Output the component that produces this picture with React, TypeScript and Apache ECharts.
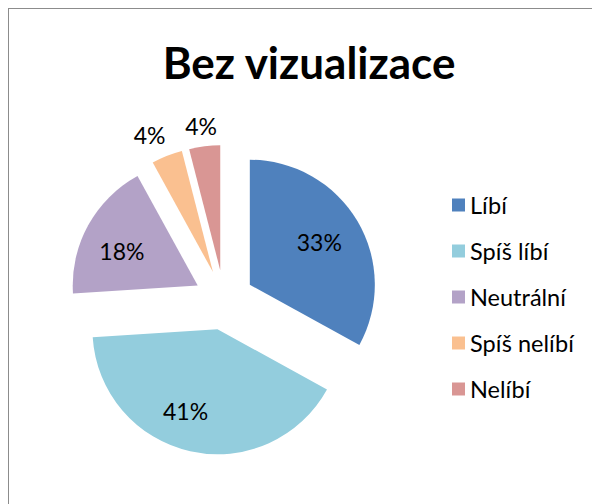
import React, { useEffect, useRef } from "react";
import * as echarts from "echarts";

const titleText = "Bez vizualizace";
const categories = ["Líbí", "Spíš líbí", "Neutrální", "Spíš nelíbí", "Nelíbí"];
const values = [33, 41, 18, 4, 4];
const colors = ["#4F81BD", "#93CDDD", "#B3A2C7", "#FAC090", "#D99694"];
const outsideLabel = [false, false, false, true, true];

const FONT = "Lato, 'Open Sans', sans-serif";

export default function App() {
  const ref = useRef<HTMLDivElement>(null);
  useEffect(() => {
    if (!ref.current) return;
    const chart = echarts.init(ref.current, undefined, { renderer: "svg" });
    const center = [215, 291];
    const R = 125;
    const off = 30;
    // small label nudges to mimic the spreadsheet's label placement
    const nudge = [
      [-5, 1],
      [-13, -3],
      [0, 7],
      [-10, -2],
      [-1, 0],
    ];
    const baseData = categories.map((name, i) => ({
      name,
      value: values[i],
      selected: true,
      itemStyle: { color: colors[i] },
    }));
    const labelData = categories.map((name, i) => ({
      name,
      value: values[i],
      selected: true,
      itemStyle: { color: "rgba(0,0,0,0)" },
      label: outsideLabel[i]
        ? { position: "outside", distanceToLabelLine: 0 }
        : { position: "inside" },
      labelLine: { show: false, length: 20, length2: 0 },
    }));
    chart.setOption({
      animation: false,
      title: {
        text: titleText,
        left: "center",
        top: 26,
        textStyle: { fontFamily: FONT, fontWeight: "bold", fontSize: 44, color: "#000" },
      },
      legend: {
        orient: "vertical",
        left: 438,
        top: 178,
        icon: "rect",
        itemWidth: 13,
        itemHeight: 13,
        itemGap: 20,
        data: categories,
        textStyle: { fontFamily: FONT, fontSize: 23.5, color: "#000", lineHeight: 26 },
        selectedMode: false,
      },
      series: [
        {
          type: "pie",
          center,
          radius: R,
          startAngle: 90,
          clockwise: true,
          selectedMode: "multiple",
          selectedOffset: off,
          label: { show: false },
          labelLine: { show: false },
          emphasis: { disabled: true },
          data: baseData,
        },
        {
          type: "pie",
          center,
          radius: [42, R],
          startAngle: 90,
          clockwise: true,
          selectedMode: "multiple",
          selectedOffset: off,
          silent: true,
          avoidLabelOverlap: false,
          emphasis: { disabled: true },
          label: {
            show: true,
            formatter: "{d}%",
            fontFamily: FONT,
            fontSize: 23,
            color: "#000",
          },
          labelLayout: (p: any) => ({
            align: "center",
            dx: nudge[p.dataIndex][0],
            dy: nudge[p.dataIndex][1],
          }),
          data: labelData,
        },
      ],
    });
    return () => chart.dispose();
  }, []);
  return (
    <div
      style={{
        width: 600,
        height: 504,
        border: "1px solid #8c8c8c",
        boxShadow: "1px 1px 0 #c8c8c8",
        background: "#fff",
      }}
    >
      <div ref={ref} style={{ width: 600, height: 504 }} />
    </div>
  );
}
